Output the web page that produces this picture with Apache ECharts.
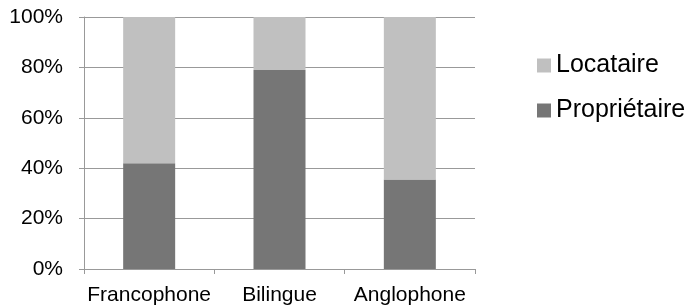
<!DOCTYPE html>
<html>
<head>
<meta charset="utf-8">
<script src="https://cdn.jsdelivr.net/npm/echarts@6/dist/echarts.min.js"></script>
<style>
    html, body { margin: 0; padding: 0; background: #fff; }
    #chart { width: 690px; height: 307px; }
</style>
</head>
<body>
<div id="chart"></div>
<script>
// catégories et valeurs (en %)
var categories = ['Francophone', 'Bilingue', 'Anglophone'];
var proprietaire = [42, 79, 35.5];
var locataire = [58, 21, 64.5];
var yTicks = [0, 20, 40, 60, 80, 100];

var mchart = echarts.init(document.getElementById('chart'));
var option = {
    animation: false,
    textStyle: { fontFamily: 'Liberation Sans, Arial, sans-serif' },
    grid: { left: 84, right: 215, top: 17, bottom: 38 },
    legend: {       //图例
        orient: 'vertical',
        left: 532,
        top: 48,
        itemWidth: 14,
        itemHeight: 14,
        itemGap: 20,
        icon: 'rect',
        data: ['Locataire', 'Propriétaire'],
        textStyle: { fontSize: 25, color: '#000' }
    },
    xAxis: {
        type: 'category',
        data: categories,
        axisLine: { lineStyle: { color: '#999', width: 1 } },
        axisTick: { show: true, length: 5, lineStyle: { color: '#999' } },
        axisLabel: { color: '#000', fontSize: 21, margin: 16, interval: 0, hideOverlap: false }
    },
    yAxis: {
        type: 'value',
        min: 0,
        max: 100,
        interval: 20,
        axisLine: { show: true, lineStyle: { color: '#999' } },
        axisTick: { show: true, length: 5, lineStyle: { color: '#999' } },
        splitLine: { lineStyle: { color: '#999', width: 1 } },
        axisLabel: {
            color: '#000',
            fontSize: 21,
            margin: 21,
            formatter: function (v) { return yTicks.indexOf(v) >= 0 ? v + '%' : ''; }
        }
    },
    series: [
        {
            name: 'Propriétaire',
            type: 'bar',
            stack: 'total',
            barWidth: 52,
            data: proprietaire,
            itemStyle: { color: '#767676' }
        },
        {
            name: 'Locataire',
            type: 'bar',
            stack: 'total',
            barWidth: 52,
            data: locataire,
            itemStyle: { color: '#C0C0C0' }
        }
    ]
};
mchart.setOption(option);
</script>
</body>
</html>
